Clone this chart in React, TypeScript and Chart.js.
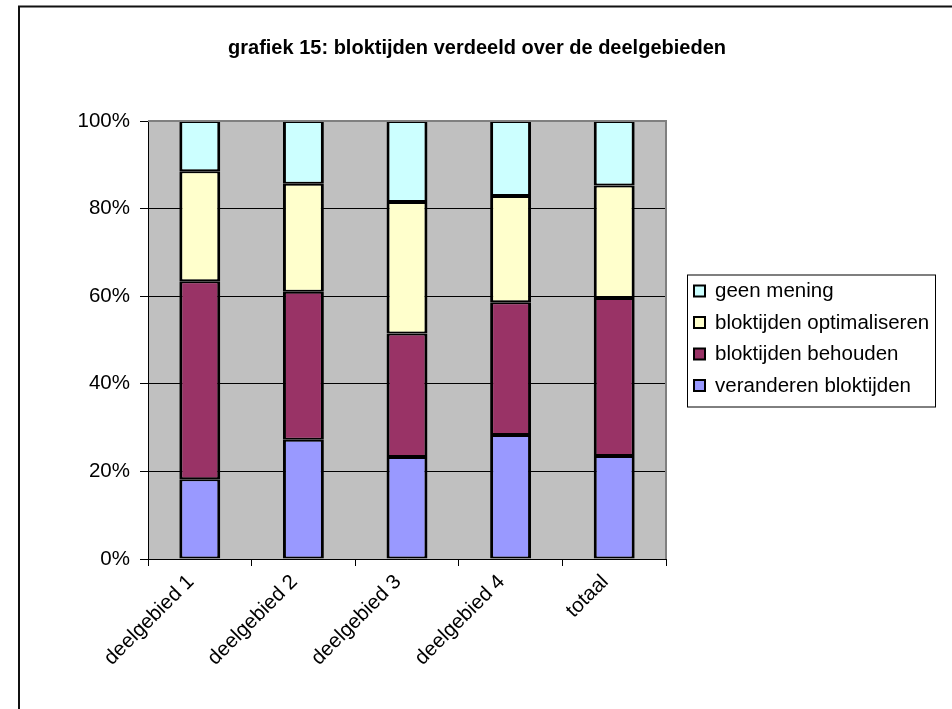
import React, { useEffect, useRef } from "react";
import { Chart, registerables } from "chart.js";

Chart.register(...registerables);

const FONT = '"Liberation Sans", Arial, sans-serif';

const TITLE = "grafiek 15: bloktijden verdeeld over de deelgebieden";

const categories = ["deelgebied 1", "deelgebied 2", "deelgebied 3", "deelgebied 4", "totaal"];

// shares per area, in percent
const veranderenBloktijden = [18.2, 27.2, 23.3, 28.3, 23.5];
const bloktijdenBehouden = [45.2, 33.8, 28.2, 30.3, 36.1];
const bloktijdenOptimaliseren = [25.1, 24.7, 30.0, 24.3, 25.7];
const geenMening = [11.5, 14.3, 18.5, 17.1, 14.7];

const seriesNames = [
  "veranderen bloktijden",
  "bloktijden behouden",
  "bloktijden optimaliseren",
  "geen mening",
];
const seriesColors = ["#9999FF", "#993366", "#FFFFCC", "#CCFFFF"];

const yTicks = [0, 20, 40, 60, 80, 100];

// plot background, frame lines, title and boxed legend
const decorations = {
  id: "decorations",
  beforeDraw(chart: any) {
    const { ctx, chartArea: a } = chart;
    ctx.save();
    ctx.fillStyle = "#ffffff";
    ctx.fillRect(0, 0, chart.width, chart.height);
    ctx.fillStyle = "#C0C0C0";
    ctx.fillRect(a.left, a.top, a.right - a.left, a.bottom - a.top);
    ctx.restore();
  },
  afterDraw(chart: any) {
    const { ctx, chartArea: a } = chart;
    ctx.save();
    // gray top / right edge of the plot
    ctx.strokeStyle = "#808080";
    ctx.lineWidth = 2;
    ctx.beginPath();
    ctx.moveTo(a.left, a.top);
    ctx.lineTo(a.right, a.top);
    ctx.lineTo(a.right, a.bottom);
    ctx.stroke();

    // outer frame (left and top)
    ctx.strokeStyle = "#111";
    ctx.lineWidth = 2;
    ctx.beginPath();
    ctx.moveTo(19, chart.height);
    ctx.lineTo(19, 6.5);
    ctx.lineTo(chart.width, 6.5);
    ctx.stroke();

    // title
    ctx.fillStyle = "#000";
    ctx.font = `bold 20px ${FONT}`;
    ctx.textAlign = "center";
    ctx.textBaseline = "middle";
    ctx.fillText(TITLE, 477, 48);

    // legend
    const lx = 687, ly = 274.5, lw = 248, lh = 132;
    ctx.fillStyle = "#fff";
    ctx.fillRect(lx, ly, lw, lh);
    ctx.strokeStyle = "#000";
    ctx.lineWidth = 1;
    ctx.strokeRect(lx + 0.5, ly + 0.5, lw, lh);
    ctx.font = `20.5px ${FONT}`;
    ctx.textAlign = "left";
    ctx.textBaseline = "middle";
    const ds = chart.data.datasets;
    for (let i = 0; i < ds.length; i++) {
      const d = ds[ds.length - 1 - i];
      const cy = ly + 17 + i * 31.5;
      ctx.fillStyle = d.backgroundColor;
      ctx.fillRect(694, cy - 6, 11, 11);
      ctx.strokeStyle = "#000";
      ctx.lineWidth = 2;
      ctx.strokeRect(694, cy - 6, 11, 11);
      ctx.fillStyle = "#000";
      ctx.fillText(d.label, 715, cy);
    }
    ctx.restore();
  },
};

export default function App() {
  const ref = useRef<HTMLCanvasElement | null>(null);

  useEffect(() => {
    if (!ref.current) return;
    const values = [veranderenBloktijden, bloktijdenBehouden, bloktijdenOptimaliseren, geenMening];
    const chart = new Chart(ref.current, {
      type: "bar",
      data: {
        labels: categories,
        datasets: values.map((v, i) => ({
          label: seriesNames[i],
          data: v,
          backgroundColor: seriesColors[i],
          borderColor: "#000000",
          borderWidth: { left: 3, right: 3, top: 2, bottom: 2 },
          borderSkipped: false,
          barPercentage: 0.395,
          categoryPercentage: 1,
        })),
      },
      options: {
        responsive: false,
        animation: false,
        events: [],
        layout: { padding: { top: 121, right: 286, left: 0, bottom: 0 } },
        plugins: {
          legend: { display: false },
          title: { display: false },
          tooltip: { enabled: false },
        },
        scales: {
          x: {
            stacked: true,
            afterFit(scale: any) {
              scale.height = 150;
            },
            grid: {
              display: true,
              drawOnChartArea: false,
              drawTicks: true,
              tickLength: 7,
              color: "#000",
              offset: true,
            },
            border: { display: true, color: "#000", width: 1 },
            ticks: {
              autoSkip: false,
              minRotation: 45,
              maxRotation: 45,
              padding: 4,
              labelOffset: -9,
              color: "#000",
              font: { family: FONT, size: 20.5 },
            },
          },
          y: {
            stacked: true,
            min: 0,
            max: 100,
            afterFit(scale: any) {
              scale.width = 148;
            },
            afterBuildTicks(scale: any) {
              scale.ticks = yTicks.map((v) => ({ value: v }));
            },
            grid: {
              color: (c: any) => (c.tick && c.tick.value === 100 ? "rgba(0,0,0,0)" : "#000"),
              tickColor: "#000",
              tickLength: 8,
              lineWidth: 1,
            },
            border: { display: true, color: "#000", width: 1 },
            ticks: {
              padding: 10,
              color: "#000",
              font: { family: FONT, size: 20.5 },
              callback: (v: any) => `${v}%`,
            },
          },
        },
      },
      plugins: [decorations],
    });
    return () => chart.destroy();
  }, []);

  return (
    <div style={{ position: "absolute", left: 0, top: 0, width: 952, height: 709, background: "#fff" }}>
      <canvas ref={ref} width={952} height={709} style={{ display: "block" }} />
    </div>
  );
}
